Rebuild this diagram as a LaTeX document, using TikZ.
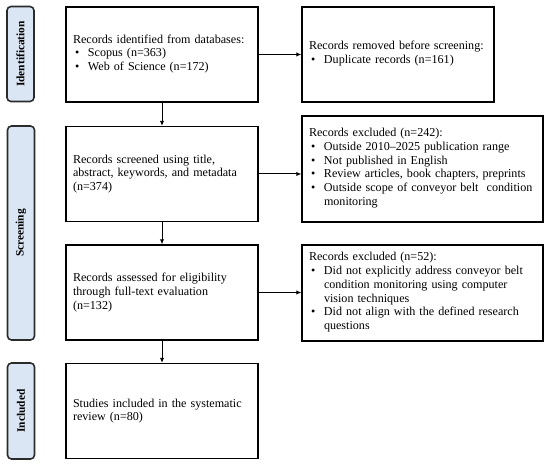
\documentclass[tikz,border=0pt]{standalone}
\usepackage{fontspec}
\setmainfont{Liberation Serif}
\usetikzlibrary{arrows.meta}
\definecolor{lblfill}{HTML}{DAE6F3}
\definecolor{lbldraw}{HTML}{2B2B2B}
\newcommand\bitem[1]{\par\noindent\makebox[15pt][l]{\hspace{2pt}\textbullet}\parbox[t]{\dimexpr\hsize-15pt\relax}{\raggedright #1\strut}}
\tikzset{
  mainbox/.style={draw=black, line width=1.4pt, minimum width=192pt, minimum height=95pt,
    text width=178pt, inner sep=0pt, align=left, font=\fontsize{12.1}{13.7}\selectfont},
  sidebox/.style={draw=black, line width=1.4pt, minimum width=241pt,
    text width=227pt, inner sep=0pt, align=left, font=\fontsize{12.1}{13.7}\selectfont},
  phase/.style={draw=lbldraw, fill=lblfill, line width=1.6pt, rounded corners=4pt,
    minimum width=27pt, inner sep=0pt},
  phasetext/.style={rotate=90, font=\bfseries\fontsize{11.4}{12}\selectfont},
  flow/.style={line width=1pt, -{Latex[length=5pt,width=4.5pt]}}
}
\begin{document}
\begin{tikzpicture}[x=1pt,y=-1pt]
\useasboundingbox (0,0) rectangle (550,468);
% phase labels
\node[phase, minimum height=95pt] (pid) at (20.5,54) {};
\node[phasetext] (tid) at (pid.center) {Identification};
\node[phase, minimum height=214pt] (psc) at (21,233) {};
\node[phasetext] (tsc) at (psc.center) {Screening};
\node[phase, minimum height=96pt] (pin) at (21,411) {};
\node[phasetext] (tin) at (pin.center) {Included};
% main boxes
\node[mainbox] (b1) at (162,54.5) {Records identified from databases:\bitem{Scopus (n=363)}\bitem{Web of Science (n=172)}};
\node[mainbox] (b2) at (162,174) {Records screened using title,\\ abstract, keywords, and metadata\\ (n=374)};
\node[mainbox] (b3) at (162,292.5) {Records assessed for eligibility\\ through full-text evaluation\\ (n=132)};
\node[mainbox] (b4) at (162,411) {Studies included in the systematic\\ review (n=80)};
% side boxes
\node[sidebox, minimum width=192pt, text width=178pt, minimum height=95pt] (r1) at (398,54.5) {Records removed before screening:\bitem{Duplicate records (n=161)}};
\node[sidebox, minimum height=106pt] (r2) at (422.5,169) {Records excluded (n=242):\bitem{Outside 2010--2025 publication range}\bitem{Not published in English}\bitem{Review articles, book chapters, preprints}\bitem{Outside scope of conveyor belt\ \ condition\\ monitoring}};
\node[sidebox, minimum height=96pt] (r3) at (422.5,293) {Records excluded (n=52):\bitem{Did not explicitly address conveyor belt\\ condition monitoring using computer\\ vision techniques}\bitem{Did not align with the defined research\\ questions}};
% connectors
\draw[flow] (b1) -- (b2);
\draw[flow] (b2) -- (b3);
\draw[flow] (b3) -- (b4);
\draw[flow] (b1.east) -- (r1.west);
\draw[flow] (b2.east) -- (b2.east -| r2.west);
\draw[flow] (b3.east) -- (b3.east -| r3.west);
\end{tikzpicture}
\end{document}
